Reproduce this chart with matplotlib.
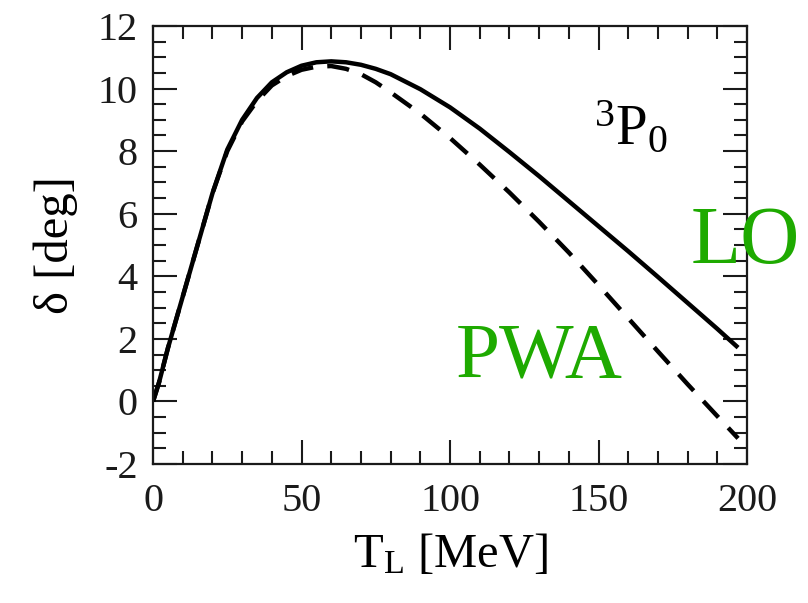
import matplotlib
matplotlib.use('Agg')
import matplotlib.pyplot as plt
from matplotlib.ticker import MultipleLocator

plt.rcParams['font.family'] = ['Liberation Serif', 'DejaVu Serif']
plt.rcParams['mathtext.fontset'] = 'custom'
plt.rcParams['mathtext.rm'] = 'Liberation Serif'
plt.rcParams['mathtext.it'] = 'Liberation Serif:italic'
plt.rcParams['axes.unicode_minus'] = False

# lab energy T_L [MeV]
T = [0, 2, 5, 10, 15, 20, 25, 30, 35, 40, 45, 50, 55, 60, 65, 70, 75, 80, 90,
     100, 110, 120, 130, 140, 150, 160, 170, 180, 190, 197]
# LO phase shift [deg]
lo = [0, 0.6, 1.7, 3.35, 5.0, 6.65, 8.05, 9.0, 9.7, 10.2, 10.52, 10.73, 10.84, 10.87,
      10.84, 10.76, 10.63, 10.46, 9.98, 9.4, 8.72, 7.97, 7.2, 6.4, 5.6, 4.8, 3.98, 3.15, 2.32, 1.72]
# PWA phase shift [deg]
pwa = [0, 0.6, 1.7, 3.35, 5.0, 6.65, 8.0, 8.95, 9.6, 10.1, 10.4, 10.6, 10.7, 10.72,
       10.63, 10.46, 10.2, 9.88, 9.2, 8.42, 7.57, 6.68, 5.74, 4.76, 3.72, 2.66, 1.6, 0.55, -0.47, -1.18]

green = '#1eaa00'

fig = plt.figure(figsize=(8.08, 6.03), dpi=100)
ax = fig.add_axes([0.1894, 0.2305, 0.7351, 0.7264])

ax.plot(T, lo, color='black', lw=3.2, solid_capstyle='butt', solid_joinstyle='round')
ax.plot(T, pwa, color='black', lw=3.2, linestyle=(0, (5, 3.2)),
        dash_capstyle='butt', dash_joinstyle='round')

ax.set_xlim(0, 200)
ax.set_ylim(-2, 12)
ax.xaxis.set_major_locator(MultipleLocator(50))
ax.xaxis.set_minor_locator(MultipleLocator(10))
ax.yaxis.set_major_locator(MultipleLocator(2))
ax.yaxis.set_minor_locator(MultipleLocator(0.5))
ax.tick_params(which='both', direction='in', top=True, right=True, width=1.5,
               labelsize=29, colors='#1a1a1a')
ax.tick_params(which='major', length=17)
ax.tick_params(which='minor', length=9.5)
ax.tick_params(axis='x', pad=14)
ax.tick_params(axis='y', pad=11)
for s in ax.spines.values():
    s.set_linewidth(1.6)
    s.set_color('#1a1a1a')

ax.set_xlabel(r'T$_\mathrm{L}$ [MeV]', fontsize=35, labelpad=8)
ax.set_ylabel('δ [deg]', fontsize=35, labelpad=14)

ax.text(0.742, 0.73, r'$^\mathrm{3}$P$_\mathrm{0}$', transform=ax.transAxes,
        fontsize=41, ha='left', va='baseline')
ax.text(0.905, 0.46, 'LO', transform=ax.transAxes, fontsize=59, color=green,
        ha='left', va='baseline', clip_on=False)
ax.text(0.51, 0.2, 'PWA', transform=ax.transAxes, fontsize=57, color=green,
        ha='left', va='baseline')

fig.savefig('out.png', dpi=100)
